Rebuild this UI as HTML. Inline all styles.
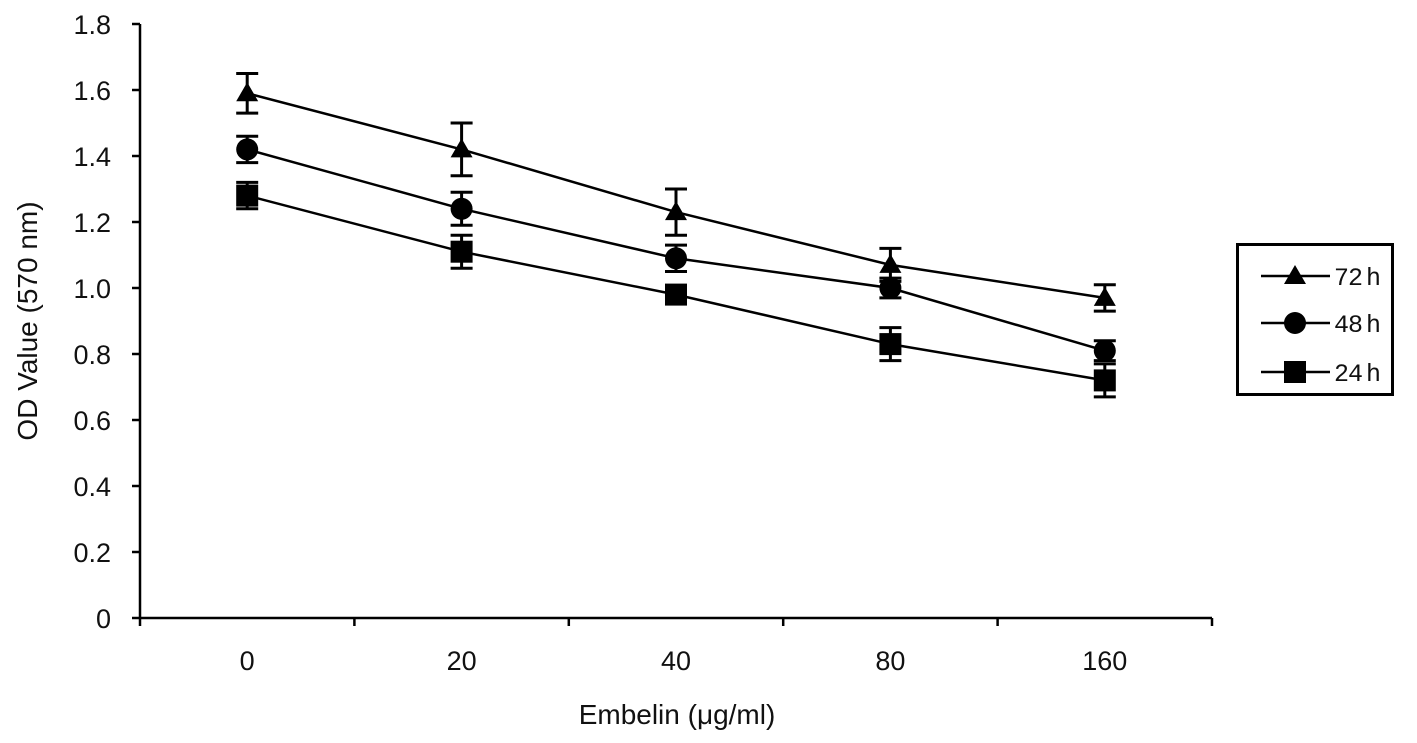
<!DOCTYPE html>
<html><head><meta charset="utf-8"><style>
body{margin:0;background:#fff}
svg text{font-family:"Liberation Sans",sans-serif;fill:#111}
</style></head><body>
<svg width="1417" height="738" viewBox="0 0 1417 738">
<g id="axes"></g>
<g id="series"></g>
<text x="677" y="724" font-size="28" text-anchor="middle">Embelin (μg/ml)</text>
<text transform="translate(37,321) rotate(-90)" font-size="28" text-anchor="middle">OD Value (570 nm)</text>
<g>
<rect x="1237.5" y="244.5" width="155" height="150" fill="none" stroke="#000" stroke-width="3"/>
<g id="legend"></g>
</g>
</svg>
<script>
const categories=["0","20","40","80","160"];
const yTicks=[0,0.2,0.4,0.6,0.8,1.0,1.2,1.4,1.6,1.8];
const yTickLabels=["0","0.2","0.4","0.6","0.8","1.0","1.2","1.4","1.6","1.8"];
const seriesNames=["72 h","48 h","24 h"];
const v72=[1.59,1.42,1.23,1.07,0.97];
const e72=[0.06,0.08,0.07,0.05,0.04];
const v48=[1.42,1.24,1.09,1.0,0.81];
const e48=[0.04,0.05,0.04,0.03,0.03];
const v24=[1.28,1.11,0.98,0.83,0.72];
const e24=[0.04,0.05,0.02,0.05,0.05];
const NS="http://www.w3.org/2000/svg";
const x0=140,x1=1212,y0=618,yTop=24,ymax=1.8;
const bw=(x1-x0)/categories.length;
const X=i=>x0+bw*(i+0.5);
const Y=v=>y0-(v/ymax)*(y0-yTop);
function mk(tag,attrs,parent){const e=document.createElementNS(NS,tag);for(const k in attrs)e.setAttribute(k,attrs[k]);parent.appendChild(e);return e;}
const ax=document.getElementById('axes');
let l=mk('line',{x1:x0,y1:yTop,x2:x0,y2:y0,stroke:'#000','stroke-width':2.5},ax);


l=mk('line',{x1:x0,y1:y0,x2:x1,y2:y0,stroke:'#000','stroke-width':2.5},ax);


yTicks.forEach((t,i)=>{
 const y=Y(t);
 const tk=mk('line',{x1:x0-8,y1:y,x2:x0,y2:y,stroke:'#000','stroke-width':2.5},ax);
 
 
 const tx=mk('text',{x:x0-29,y:y+10,'font-size':27,'text-anchor':'end'},ax);
 tx.textContent=yTickLabels[i];
 
 
});
for(let i=0;i<=categories.length;i++){
 const x=x0+bw*i;
 const tk=mk('line',{x1:x,y1:y0,x2:x,y2:y0+8,stroke:'#000','stroke-width':2.5},ax);
 
 
}
categories.forEach((c,i)=>{
 const tx=mk('text',{x:X(i),y:670,'font-size':27,'text-anchor':'middle'},ax);
 tx.textContent=c;
 
 
});
function marker(shape,x,y,g){
 let m;
 if(shape==='tri')m=mk('polygon',{points:`${x},${y-11} ${x-11},${y+8} ${x+11},${y+8}`,fill:'#000'},g);
 else if(shape==='circ')m=mk('circle',{cx:x,cy:y,r:11,fill:'#000'},g);
 else m=mk('rect',{x:x-11,y:y-11,width:22,height:22,fill:'#000'},g);
 return m;
}
const sg=document.getElementById('series');
[[v72,e72,'tri','72h'],[v48,e48,'circ','48h'],[v24,e24,'sq','24h']].forEach(([vals,errs,shape,nm])=>{
 const g=mk('g',{},sg);
 
 
 const pl=mk('polyline',{points:vals.map((v,i)=>X(i)+','+Y(v)).join(' '),fill:'none',stroke:'#000','stroke-width':2.5},g);
 
 
 vals.forEach((v,i)=>{
  const x=X(i),yt=Y(v+errs[i]),yb=Y(v-errs[i]);
  const eb=mk('path',{d:`M${x},${yt}V${yb}M${x-11},${yt}H${x+11}M${x-11},${yb}H${x+11}`,stroke:'#000','stroke-width':3,fill:'none'},g);
  
  
  const m=marker(shape,x,Y(v),g);
  
  
 });
});
const lg=document.getElementById('legend');
['tri','circ','sq'].forEach((s,i)=>{
 const y=[276,323,372][i];
 const ln=mk('line',{x1:1261,y1:y,x2:1330,y2:y,stroke:'#000','stroke-width':2.5},lg);
 
 
 const m=marker(s,1295,y,lg);
 
 
 const t=mk('text',{x:1334,y:y+9,'font-size':25,style:'font-family:"Liberation Mono",monospace;word-spacing:-10px;letter-spacing:-1px'},lg);
 t.textContent=seriesNames[i];
 
 
});
</script>
</body></html>
